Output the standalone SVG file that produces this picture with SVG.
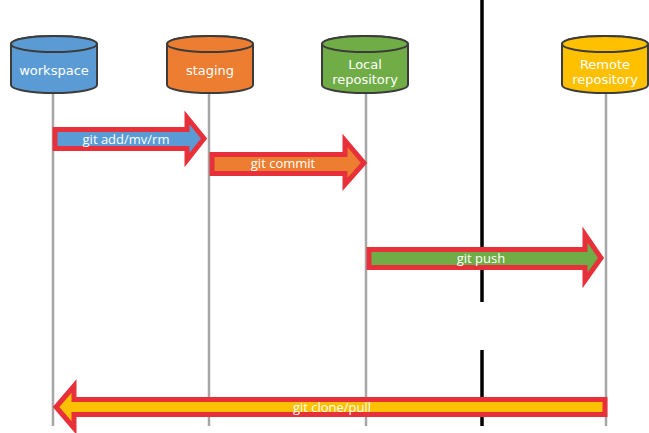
<svg xmlns="http://www.w3.org/2000/svg" width="649" height="433" viewBox="0 0 649 433">
<style>
.cyl{stroke:#3c3c3c;stroke-width:2}
.life{stroke:#a6a6a6;stroke-width:2.5}
.arr{stroke:#e8303a;stroke-width:5;stroke-linejoin:miter;stroke-miterlimit:10}
.nt{font-family:"DejaVu Sans",sans-serif;font-size:13px;fill:#fff;text-anchor:middle}
.at{font-family:"Open Sans","Liberation Sans",sans-serif;font-size:13px;fill:#fff;text-anchor:middle}
</style>
<rect width="649" height="433" fill="#fff"/>
<g id="divider">
<line x1="482" y1="0" x2="482" y2="302" stroke="#000" stroke-width="3.5"/>
<line x1="482" y1="350" x2="482" y2="426" stroke="#000" stroke-width="3.5"/>
</g>
<g id="lifelines">
<line class="life" x1="53" y1="93" x2="53" y2="426"/>
<line class="life" x1="209" y1="93" x2="209" y2="426"/>
<line class="life" x1="366" y1="93" x2="366" y2="426"/>
<line class="life" x1="606" y1="93" x2="606" y2="426"/>
</g>
<g id="workspace">
<path class="cyl" fill="#5b9bd5" d="M11,44 L11,85 A43,8 0 0 0 97,85 L97,44 A43,8 0 0 0 11,44 Z"/>
<ellipse class="cyl" cx="54" cy="44" rx="43" ry="8" fill="#5b9bd5"/>
<text class="nt" x="54" y="75">workspace</text>
</g>
<g id="staging">
<path class="cyl" fill="#ed7d31" d="M167,44 L167,85 A43,8 0 0 0 253,85 L253,44 A43,8 0 0 0 167,44 Z"/>
<ellipse class="cyl" cx="210" cy="44" rx="43" ry="8" fill="#ed7d31"/>
<text class="nt" x="210" y="75">staging</text>
</g>
<g id="local">
<path class="cyl" fill="#70ad47" d="M322,44 L322,85 A43,8 0 0 0 408,85 L408,44 A43,8 0 0 0 322,44 Z"/>
<ellipse class="cyl" cx="365" cy="44" rx="43" ry="8" fill="#70ad47"/>
<text class="nt" x="365" y="68.5">Local</text>
<text class="nt" x="365" y="83.5">repository</text>
</g>
<g id="remote">
<path class="cyl" fill="#ffc000" d="M562,44 L562,85 A43,8 0 0 0 648,85 L648,44 A43,8 0 0 0 562,44 Z"/>
<ellipse class="cyl" cx="605" cy="44" rx="43" ry="8" fill="#ffc000"/>
<text class="nt" x="605" y="68.5">Remote</text>
<text class="nt" x="605" y="83.5">repository</text>
</g>
<g id="connectors">
<g id="add">
<polygon class="arr" fill="#5b9bd5" points="55,129.5 187,129.5 187,117.5 204,138.5 187,160 187,148.5 55,148.5"/>
<text class="at" x="126" y="143.5">git add/mv/rm</text>
</g>
<g id="commit">
<polygon class="arr" fill="#ed7d31" points="212,154.5 345,154.5 345,140.5 364,163 345,184.5 345,173.5 212,173.5"/>
<text class="at" x="283" y="168">git commit</text>
</g>
<g id="push">
<polygon class="arr" fill="#70ad47" points="369,249.5 585,249.5 585,234.5 601,258 585,280.5 585,267.5 369,267.5"/>
<text class="at" x="481" y="262.5">git push</text>
</g>
<g id="clone">
<polygon class="arr" fill="#ffc000" points="605,399.5 74,399.5 74,386 56,407 74,428 74,414.5 605,414.5"/>
<text class="at" x="332" y="411.5">git clone/pull</text>
</g>
</g>
</svg>
